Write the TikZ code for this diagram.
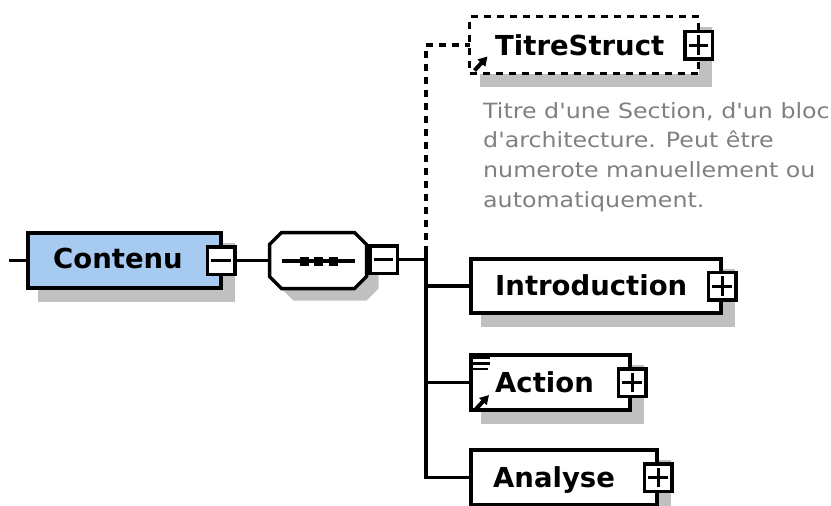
\documentclass[tikz,border=0pt]{standalone}
\usepackage{fontspec}
\setmainfont{DejaVu Sans}
\newfontfamily\descfont[FakeStretch=1.13]{DejaVu Sans}
\usetikzlibrary{arrows.meta}
\definecolor{shadowgray}{RGB}{192,192,192}
\definecolor{elemblue}{RGB}{166,202,240}
\definecolor{descgray}{RGB}{128,128,128}
\begin{document}
\begin{tikzpicture}[x=1pt,y=-1pt,
  shadowed/.style={preaction={solid, draw=shadowgray, fill=shadowgray, transform canvas={shift={(12pt,-12pt)}}}},
  elem/.style={shadowed, draw, fill=white, line width=4.5pt, inner sep=0pt, outer sep=0pt, anchor=center},
  optelem/.style={shadowed, draw, fill=white, line width=3.5pt, dash pattern=on 7pt off 6pt, inner sep=0pt, outer sep=0pt, anchor=center},
  elemtext/.style={anchor=base west, inner sep=0pt, font=\fontsize{27.5}{30}\selectfont\bfseries},
  expbox/.style={draw, fill=white, line width=3.5pt, minimum size=27.5pt, inner sep=0pt},
  minusbox/.style={expbox, path picture={\draw[line width=3pt] ([xshift=4pt]path picture bounding box.west) -- ([xshift=-4pt]path picture bounding box.east);}},
  plusbox/.style={expbox, path picture={\draw[line width=3pt] ([xshift=4pt]path picture bounding box.west) -- ([xshift=-4pt]path picture bounding box.east); \draw[line width=3pt] ([yshift=4pt]path picture bounding box.south) -- ([yshift=-4pt]path picture bounding box.north);}},
  conn/.style={line width=3.5pt},
  dashconn/.style={line width=3.5pt, dash pattern=on 7pt off 6pt},
  refarrow/.style={line width=4pt, -{Triangle[length=9pt,width=10pt]}},
  iconline/.style={line width=2.5pt},
]
\useasboundingbox (0,0) rectangle (831,506);

% main element
\node[elem, fill=elemblue, minimum width=193pt, minimum height=55pt] (contenu) at (124.5,260.5) {};
\node[elemtext] (contenut) at (53,268) {Contenu};
\node[minusbox] (contm) at (contenu.east) {};

% sequence compositor
\node[minimum width=97pt, minimum height=56pt, inner sep=0pt, outer sep=1.5pt] (seq) at (318,260.5) {};
\fill[shadowgray, shift={(12,12)}] (281.5,232.5) -- (354.5,232.5) -- (366.5,244.5) -- (366.5,276.5) -- (354.5,288.5) -- (281.5,288.5) -- (269.5,276.5) -- (269.5,244.5) -- cycle;
\draw[line width=3.5pt, fill=white] (281.5,232.5) -- (354.5,232.5) -- (366.5,244.5) -- (366.5,276.5) -- (354.5,288.5) -- (281.5,288.5) -- (269.5,276.5) -- (269.5,244.5) -- cycle;
\draw[line width=3.5pt] (282,261) -- (355,261);
\fill (300,256.5) rectangle (309,265.5);
\fill (313.5,256.5) rectangle (322.5,265.5);
\fill (329,256.5) rectangle (338,265.5);
\node[minusbox] (seqm) at (383.5,259.5) {};

% children
\node[optelem, minimum width=229pt, minimum height=57pt] (titre) at (584,45) {};
\node[elemtext] (titret) at (495,55) {TitreStruct};
\node[plusbox] (titrep) at (titre.east) {};
\draw[refarrow] ([shift={(5,54)}]titre.north west) -- ++(13,-14);

\node[elem, minimum width=250pt, minimum height=54pt] (intro) at (596,286) {};
\node[elemtext] (introt) at (495,295) {Introduction};
\node[plusbox] (introp) at ([xshift=1pt]intro.east) {};

\node[elem, minimum width=159pt, minimum height=55pt] (action) at (550.5,382.5) {};
\node[elemtext] (actiont) at (495,392) {Action};
\node[plusbox] (actionp) at ([xshift=2pt]action.east) {};
\draw[refarrow] ([shift={(5,54)}]action.north west) -- ++(13,-14);
\draw[iconline] ([shift={(2,3)}]action.north west) -- ++(17,0);
\draw[iconline] ([shift={(2,8.5)}]action.north west) -- ++(17,0);
\draw[iconline] ([shift={(2,14)}]action.north west) -- ++(15,0);

\node[elem, minimum width=186pt, minimum height=55pt] (analyse) at (564,477.5) {};
\node[elemtext] (analyset) at (493,487) {Analyse};
\node[plusbox] (analysep) at ([xshift=1pt]analyse.east) {};

% description
\node[anchor=base west, inner sep=0pt, align=left, text=descgray, font=\descfont\fontsize{21}{29.7}\selectfont] (desc) at (483,207.1) {Titre d'une Section, d'un bloc\\d'architecture. Peut être\\numerote manuellement ou\\automatiquement.};

% connectors
\coordinate (lstart) at (9,260.5);
\coordinate (busA) at (426,253);
\draw[conn] (lstart) -- (contenu.west);
\draw[conn] (contm.east) -- (seq.west);
\draw[conn] (seqm.east) -- (seqm.east -| busA);
\draw[conn] (busA) -- (busA |- analyse.west) -- (analyse.west);
\draw[conn] (busA |- intro.west) -- (intro.west);
\draw[conn] (busA |- action.west) -- (action.west);
\draw[dashconn] (busA) -- (busA |- titre.west) -- (titre.west);
\end{tikzpicture}
\end{document}
